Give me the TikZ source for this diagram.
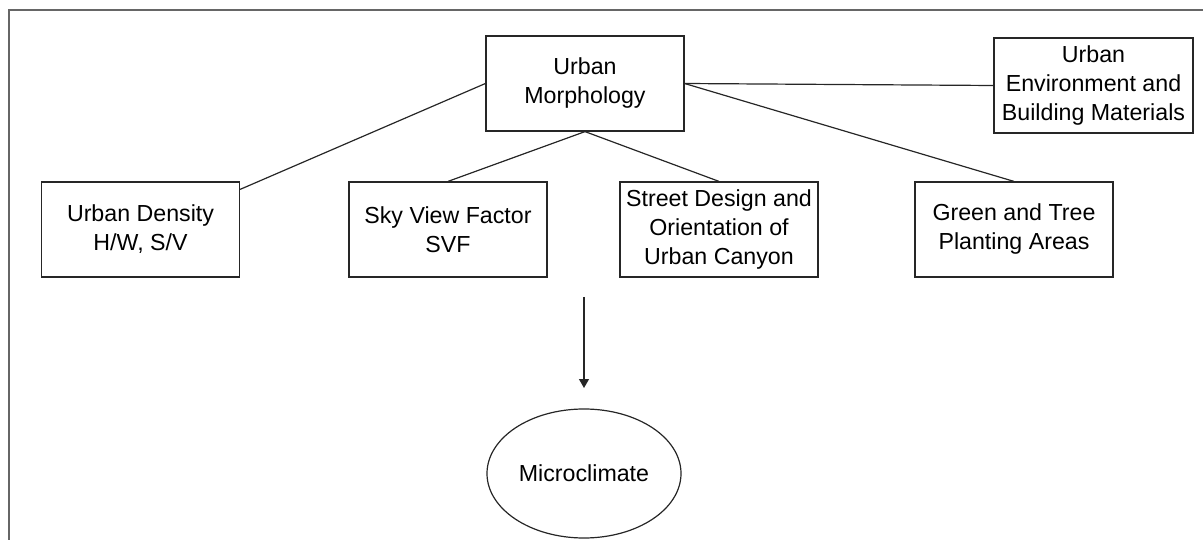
\documentclass[tikz,border=0pt]{standalone}
\usepackage{fontspec}
\setmainfont{Liberation Sans}
\usetikzlibrary{arrows.meta,shapes.geometric,calc}
\begin{document}
\begin{tikzpicture}[x=1pt,y=-1pt,
  box/.style={draw=black!85,line width=1.2pt,rectangle,minimum width=198pt,minimum height=95pt,align=center,inner sep=0pt,
    font=\fontsize{23.2pt}{29pt}\selectfont},
  link/.style={draw=black!85,line width=1.2pt},
  frame/.style={draw=black!60,line width=1.6pt}]
\useasboundingbox (0,0) rectangle (1203,540);
\draw[frame] (1203,10) -- (9,10) -- (9,541);
\node[box] (um) at (585,83.5) {Urban\\Morphology};
\node[box] (ud) at (140.5,229.5) {Urban Density\\H/W, S/V};
\node[box] (svf) at (448,229.5) {Sky View Factor\\SVF};
\node[box] (sd) at (719,229.5) {Street Design and\\Orientation of\\Urban Canyon};
\node[box] (gt) at (1014,229.5) {Green and Tree\\Planting Areas};
\node[box,minimum width=199pt] (ue) at (1093.5,85.5) {Urban\\Environment and\\Building Materials};
\node[draw=black!85,line width=1.2pt,ellipse,minimum width=194pt,minimum height=129pt,inner sep=0pt,
  font=\fontsize{23.2pt}{29pt}\selectfont] (mc) at (584,473.5) {Microclimate};
\draw[link] (um.west) -- ([yshift=-8pt]ud.north east);
\draw[link] (um.south) -- (svf.north);
\draw[link] (um.south) -- (sd.north);
\draw[link] (um.east) -- (ue.west);
\draw[link] (um.east) -- (gt.north);
\coordinate (as) at (584,297);
\coordinate (ae) at (584,388);
\draw[link,-{Triangle[length=9pt,width=10pt]}] (as) -- (ae);
\end{tikzpicture}
\end{document}
